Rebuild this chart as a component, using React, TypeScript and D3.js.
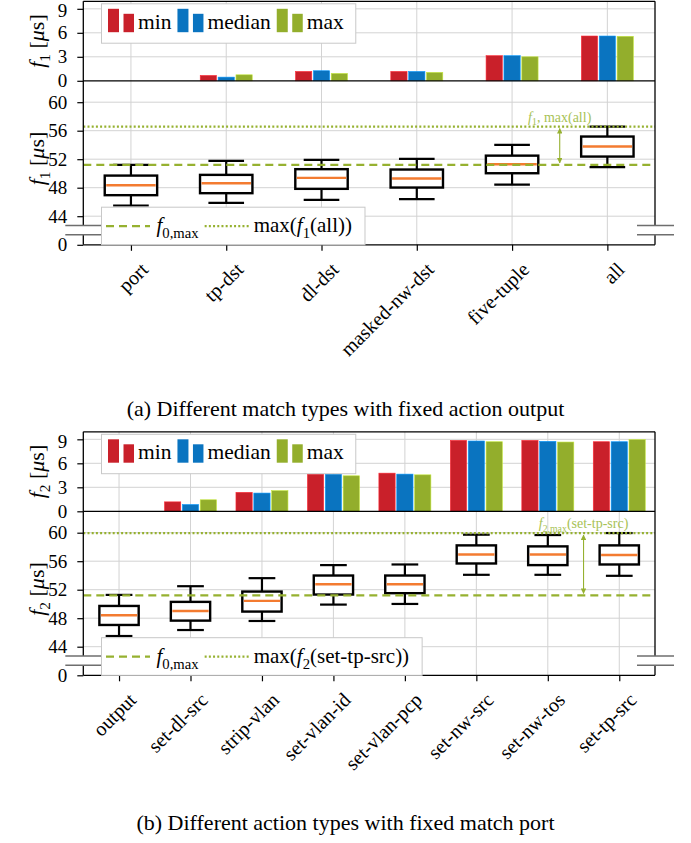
import React, { useEffect, useRef } from "react";
import * as d3 from "d3";

// (a) different match types, fixed action "output"
const matchTypes = ["port", "tp-dst", "dl-dst", "masked-nw-dst", "five-tuple", "all"];
const f1Min = [0, 0.67, 1.17, 1.17, 3.14, 5.6];
const f1Median = [0, 0.46, 1.26, 1.17, 3.14, 5.6];
const f1Max = [0, 0.75, 0.92, 1.05, 3.0, 5.56];
const f1Low = [45.5, 45.87, 46.3, 46.39, 48.44, 50.88];
const f1Q1 = [46.95, 47.23, 47.84, 48.02, 50.03, 52.37];
const f1Mid = [48.35, 48.63, 49.38, 49.29, 51.3, 53.78];
const f1Q3 = [49.7, 49.8, 50.6, 50.55, 52.5, 55.18];
const f1High = [51.2, 51.77, 51.9, 52.05, 54.0, 56.58];
const f1AllMax = 56.58;

// (b) different action types, fixed match "port"
const actionTypes = ["output", "set-dl-src", "strip-vlan", "set-vlan-id", "set-vlan-pcp", "set-nw-src", "set-nw-tos", "set-tp-src"];
const f2Min = [0, 1.18, 2.37, 4.65, 4.77, 8.87, 8.87, 8.7];
const f2Median = [0, 0.85, 2.28, 4.65, 4.65, 8.79, 8.75, 8.7];
const f2Max = [0, 1.44, 2.58, 4.44, 4.56, 8.7, 8.66, 8.96];
const f2Low = [45.5, 46.34, 47.61, 49.91, 50.0, 54.09, 54.09, 53.95];
const f2Q1 = [47.05, 47.66, 48.93, 51.32, 51.51, 55.68, 55.45, 55.54];
const f2Mid = [48.41, 49.02, 50.43, 52.77, 52.77, 56.95, 56.95, 56.86];
const f2Q3 = [49.72, 50.29, 51.74, 53.99, 53.99, 58.22, 58.08, 58.22];
const f2High = [51.27, 52.49, 53.62, 55.45, 55.54, 59.72, 59.67, 59.95];
const f2TpSrcMax = 59.95;

const f0Max = 51.2;
const barTicks = [0, 3, 6, 9];
const boxTicks = [44, 48, 52, 56, 60];
const seriesNames = ["min", "median", "max"];

const FONT = "'Liberation Serif', 'Times New Roman', serif";
const RED = "#c9202a";
const BLUE = "#0a74c0";
const GREEN = "#93ae2c";
const ORANGE = "#f37b30";
const LINE_GREEN = "#96b130";
const NOTE_GREEN = "#a7c255";
const GRID = "#d3d3d3";
const LEFT = 83.3;
const RIGHT = 655;

type Part = { t: string; it?: boolean; sub?: boolean };

// writes text made of italic / subscript pieces
function rich(text: any, parts: Part[], size: number) {
  let down = false;
  parts.forEach((p) => {
    const ts = text.append("tspan").text(p.t);
    if (p.it) ts.attr("font-style", "italic");
    if (p.sub) {
      ts.attr("font-size", size * 0.7);
      if (!down) ts.attr("dy", size * 0.28);
      down = true;
    } else if (down) {
      ts.attr("dy", -size * 0.28);
      down = false;
    }
  });
}

function drawFigure(svg: any, cfg: any) {
  const g = svg.append("g");
  const oy = cfg.oy;
  const top = oy + 0.8;
  const zero = oy + 80.3;
  const bottom = oy + 244.3;
  const brk1 = oy + 225;
  const brk2 = oy + 234.3;

  const x = d3.scaleBand().domain(cfg.cats).range([LEFT, RIGHT]);
  const xp = d3.scalePoint().domain(cfg.cats).range([LEFT, RIGHT]).padding(0.5);
  const cx = (c: string) => xp(c) as number;
  const bw = x.bandwidth();
  const yBar = d3.scaleLinear().domain([0, 9.94]).range([zero, top]);
  const yBox = d3.scaleLinear().domain([44, 60]).range([oy + 215.7, oy + 101.7]);
  const yZero = d3.scaleLinear().domain([0, 1]).range([bottom, bottom - 10]);

  // grid
  g.append("g").selectAll("line").data(cfg.cats).join("line")
    .attr("x1", cx).attr("x2", cx).attr("y1", top).attr("y2", bottom)
    .attr("stroke", GRID).attr("stroke-width", 1);
  g.append("g").selectAll("line").data(barTicks.slice(1)).join("line")
    .attr("x1", LEFT).attr("x2", RIGHT).attr("y1", (d: number) => yBar(d)).attr("y2", (d: number) => yBar(d))
    .attr("stroke", GRID).attr("stroke-width", 1);
  g.append("g").selectAll("line").data(boxTicks).join("line")
    .attr("x1", LEFT).attr("x2", RIGHT).attr("y1", (d: number) => yBox(d)).attr("y2", (d: number) => yBox(d))
    .attr("stroke", GRID).attr("stroke-width", 1);

  // bars
  const xs = d3.scaleBand().domain(seriesNames).range([-26, 26]).paddingInner(0.09);
  const series = [
    { key: "min", vals: cfg.min, color: RED },
    { key: "median", vals: cfg.median, color: BLUE },
    { key: "max", vals: cfg.max, color: GREEN },
  ];
  series.forEach((s) => {
    g.append("g").selectAll("rect").data(cfg.cats.map((c: string, i: number) => ({ c, v: s.vals[i] })).filter((d: any) => d.v > 0))
      .join("rect")
      .attr("x", (d: any) => cx(d.c) + (xs(s.key) as number))
      .attr("y", (d: any) => yBar(d.v))
      .attr("width", xs.bandwidth())
      .attr("height", (d: any) => zero - yBar(d.v))
      .attr("fill", s.color)
      .attr("stroke", d3.color(s.color)!.brighter(0.8).toString())
      .attr("stroke-width", 0.6);
  });

  // boxes
  const boxW = bw * 0.55;
  const capW = boxW * 0.68;
  const boxes = cfg.cats.map((c: string, i: number) => ({
    c, lo: cfg.lo[i], q1: cfg.q1[i], mid: cfg.mid[i], q3: cfg.q3[i], hi: cfg.hi[i],
  }));
  const bg = g.append("g").selectAll("g").data(boxes).join("g");
  bg.append("line").attr("x1", (d: any) => cx(d.c)).attr("x2", (d: any) => cx(d.c))
    .attr("y1", (d: any) => yBox(d.hi)).attr("y2", (d: any) => yBox(d.lo))
    .attr("stroke", "#000").attr("stroke-width", 2.2);
  bg.append("line").attr("x1", (d: any) => cx(d.c) - capW / 2).attr("x2", (d: any) => cx(d.c) + capW / 2)
    .attr("y1", (d: any) => yBox(d.hi)).attr("y2", (d: any) => yBox(d.hi))
    .attr("stroke", "#000").attr("stroke-width", 2.2);
  bg.append("line").attr("x1", (d: any) => cx(d.c) - capW / 2).attr("x2", (d: any) => cx(d.c) + capW / 2)
    .attr("y1", (d: any) => yBox(d.lo)).attr("y2", (d: any) => yBox(d.lo))
    .attr("stroke", "#000").attr("stroke-width", 2.2);
  bg.append("rect").attr("x", (d: any) => cx(d.c) - boxW / 2).attr("width", boxW)
    .attr("y", (d: any) => yBox(d.q3)).attr("height", (d: any) => yBox(d.q1) - yBox(d.q3))
    .attr("fill", "#fff").attr("stroke", "#000").attr("stroke-width", 2.4);
  bg.append("line").attr("x1", (d: any) => cx(d.c) - boxW / 2 + 1.5).attr("x2", (d: any) => cx(d.c) + boxW / 2 - 1.5)
    .attr("y1", (d: any) => yBox(d.mid)).attr("y2", (d: any) => yBox(d.mid))
    .attr("stroke", ORANGE).attr("stroke-width", 2.4);

  // reference lines
  g.append("line").attr("x1", LEFT).attr("x2", RIGHT).attr("y1", yBox(f0Max)).attr("y2", yBox(f0Max))
    .attr("stroke", LINE_GREEN).attr("stroke-width", 2.2).attr("stroke-dasharray", "8 5");
  g.append("line").attr("x1", LEFT).attr("x2", RIGHT).attr("y1", yBox(cfg.maxLine)).attr("y2", yBox(cfg.maxLine))
    .attr("stroke", LINE_GREEN).attr("stroke-width", 2.2).attr("stroke-dasharray", "2 2.2");

  // arrow between the two lines
  const n = cfg.cats.length;
  const ax = (cx(cfg.cats[n - 2]) + cx(cfg.cats[n - 1])) / 2;
  g.append("line").attr("x1", ax).attr("x2", ax).attr("y1", yBox(cfg.maxLine) + 2).attr("y2", yBox(f0Max) - 2)
    .attr("stroke", LINE_GREEN).attr("stroke-width", 1.1)
    .attr("marker-start", "url(#arrowG)").attr("marker-end", "url(#arrowG)");
  const note = g.append("text").attr("x", ax).attr("y", yBox(cfg.maxLine) - 5)
    .attr("text-anchor", "middle").attr("font-family", FONT).attr("font-size", 14).attr("fill", NOTE_GREEN);
  rich(note, cfg.note, 14);

  // spines
  const spine = (x1: number, y1: number, x2: number, y2: number) =>
    g.append("line").attr("x1", x1).attr("y1", y1).attr("x2", x2).attr("y2", y2)
      .attr("stroke", "#000").attr("stroke-width", 1.3);
  spine(LEFT, top, RIGHT, top);
  spine(LEFT, zero, RIGHT, zero);
  spine(LEFT, bottom, RIGHT, bottom);
  [LEFT, RIGHT].forEach((sx) => {
    spine(sx, top, sx, brk1);
    spine(sx, brk2, sx, bottom);
  });

  // axes
  const styleAxis = (a: any) => {
    a.select(".domain").remove();
    a.selectAll("line").attr("stroke", "#000").attr("stroke-width", 1.2);
    a.attr("font-family", FONT).attr("font-size", 19);
    a.selectAll("text").attr("fill", "#000");
  };
  const leftAxis = (scale: any, ticks: number[]) =>
    g.append("g").attr("transform", `translate(${LEFT},0)`)
      .call(d3.axisLeft(scale).tickValues(ticks).tickSize(6).tickPadding(10).tickFormat(d3.format("d")))
      .call(styleAxis);
  const barAxis = leftAxis(yBar, barTicks);
  // keep the top label inside the page
  barAxis.selectAll("text").filter((d: number) => d === 9).attr("dy", "0.42em");
  leftAxis(yBox, boxTicks);
  leftAxis(yZero, [0]);

  const xa = g.append("g").attr("transform", `translate(0,${bottom})`)
    .call(d3.axisBottom(xp).tickSize(6))
    .call(styleAxis);
  xa.attr("font-size", 20);
  xa.selectAll("text")
    .attr("y", 0).attr("x", 0).attr("dy", "0.35em")
    .attr("text-anchor", "end")
    .attr("transform", "translate(13,21) rotate(-45)");

  // legend for bars
  const lg = g.append("g");
  const lx = 101.5;
  const ly = top + 2.5;
  const lbox = lg.append("rect").attr("x", lx).attr("y", ly).attr("height", 39.4)
    .attr("fill", "#fff").attr("stroke", "#c8c8c8").attr("stroke-width", 1);
  let cur = lx + 6.5;
  series.forEach((s) => {
    lg.append("rect").attr("x", cur).attr("y", ly + 5).attr("width", 11).attr("height", 23.4).attr("fill", s.color);
    lg.append("rect").attr("x", cur + 15.5).attr("y", ly + 10).attr("width", 10.5).attr("height", 18.4).attr("fill", s.color);
    const t = lg.append("text").attr("x", cur + 30).attr("y", ly + 25)
      .attr("font-family", FONT).attr("font-size", 21.5).text(s.key);
    cur = cur + 30 + (t.node() as SVGTextElement).getComputedTextLength() + 6;
  });
  lbox.attr("width", cur - lx + 6);

  // legend for reference lines
  const rg = g.append("g");
  const ry = bottom - 37.6;
  const rmid = ry + 19;
  const rbox = rg.append("rect").attr("x", lx).attr("y", ry).attr("height", 37.6)
    .attr("fill", "#fff").attr("stroke", "#c8c8c8").attr("stroke-width", 1);
  rg.append("line").attr("x1", lx + 4.5).attr("x2", lx + 48.5).attr("y1", rmid).attr("y2", rmid)
    .attr("stroke", LINE_GREEN).attr("stroke-width", 2.2).attr("stroke-dasharray", "8 5");
  const t1 = rg.append("text").attr("x", lx + 55).attr("y", rmid + 6).attr("font-family", FONT).attr("font-size", 21);
  rich(t1, [{ t: "f", it: true }, { t: "0,max", sub: true }], 21);
  const e1 = lx + 55 + (t1.node() as SVGTextElement).getComputedTextLength() + 6;
  rg.append("line").attr("x1", e1).attr("x2", e1 + 45).attr("y1", rmid).attr("y2", rmid)
    .attr("stroke", LINE_GREEN).attr("stroke-width", 2.2).attr("stroke-dasharray", "2 2.2");
  const t2 = rg.append("text").attr("x", e1 + 49).attr("y", rmid + 6).attr("font-family", FONT).attr("font-size", 21);
  rich(t2, cfg.legendMax, 21);
  rbox.attr("width", e1 + 49 + (t2.node() as SVGTextElement).getComputedTextLength() + 13 - lx);

  // axis break marks
  [LEFT, RIGHT].forEach((sx) => {
    [brk1, brk2].forEach((by) => {
      g.append("line").attr("x1", sx - 18).attr("x2", sx === LEFT ? lx - 0.5 : sx + 19)
        .attr("y1", by).attr("y2", by).attr("stroke", "#6e6e6e").attr("stroke-width", 1.6);
    });
  });

  // y labels
  const ylab = (cyv: number) => {
    const t = g.append("text").attr("transform", `translate(44,${cyv}) rotate(-90)`)
      .attr("text-anchor", "middle").attr("font-family", FONT).attr("font-size", 22);
    rich(t, [{ t: "f", it: true }, { t: cfg.sub, sub: true }, { t: "  [" }, { t: "μ", it: true }, { t: "s]" }], 22);
  };
  ylab((top + zero) / 2);
  ylab(oy + 158);

  // caption
  g.append("text").attr("x", 345.5).attr("y", cfg.captionY).attr("text-anchor", "middle")
    .attr("font-family", FONT).attr("font-size", 22).text(cfg.caption);
}

const App = () => {
  const ref = useRef<SVGSVGElement>(null);

  useEffect(() => {
    const svg = d3.select(ref.current);
    svg.selectAll("*").remove();
    svg.append("defs").append("marker").attr("id", "arrowG")
      .attr("viewBox", "0 0 10 10").attr("refX", 9).attr("refY", 5)
      .attr("markerWidth", 5).attr("markerHeight", 5).attr("orient", "auto-start-reverse")
      .append("path").attr("d", "M0,0 L10,5 L0,10 z").attr("fill", LINE_GREEN);

    drawFigure(svg, {
      oy: 0.5, cats: matchTypes,
      min: f1Min, median: f1Median, max: f1Max,
      lo: f1Low, q1: f1Q1, mid: f1Mid, q3: f1Q3, hi: f1High,
      maxLine: f1AllMax, sub: "1",
      note: [{ t: "f", it: true }, { t: "1", sub: true }, { t: ", max(all)" }],
      legendMax: [{ t: "max(" }, { t: "f", it: true }, { t: "1", sub: true }, { t: "(all))" }],
      caption: "(a) Different match types with fixed action output", captionY: 416,
    });
    drawFigure(svg, {
      oy: 431, cats: actionTypes,
      min: f2Min, median: f2Median, max: f2Max,
      lo: f2Low, q1: f2Q1, mid: f2Mid, q3: f2Q3, hi: f2High,
      maxLine: f2TpSrcMax, sub: "2",
      note: [{ t: "f", it: true }, { t: "2,max", sub: true }, { t: "(set-tp-src)" }],
      legendMax: [{ t: "max(" }, { t: "f", it: true }, { t: "2", sub: true }, { t: "(set-tp-src))" }],
      caption: "(b) Different action types with fixed match port", captionY: 830,
    });
  }, []);

  return (
    <svg ref={ref} width={691} height={843}
      style={{ position: "absolute", left: 0, top: 0, background: "#fff" }} />
  );
};

export default App;
